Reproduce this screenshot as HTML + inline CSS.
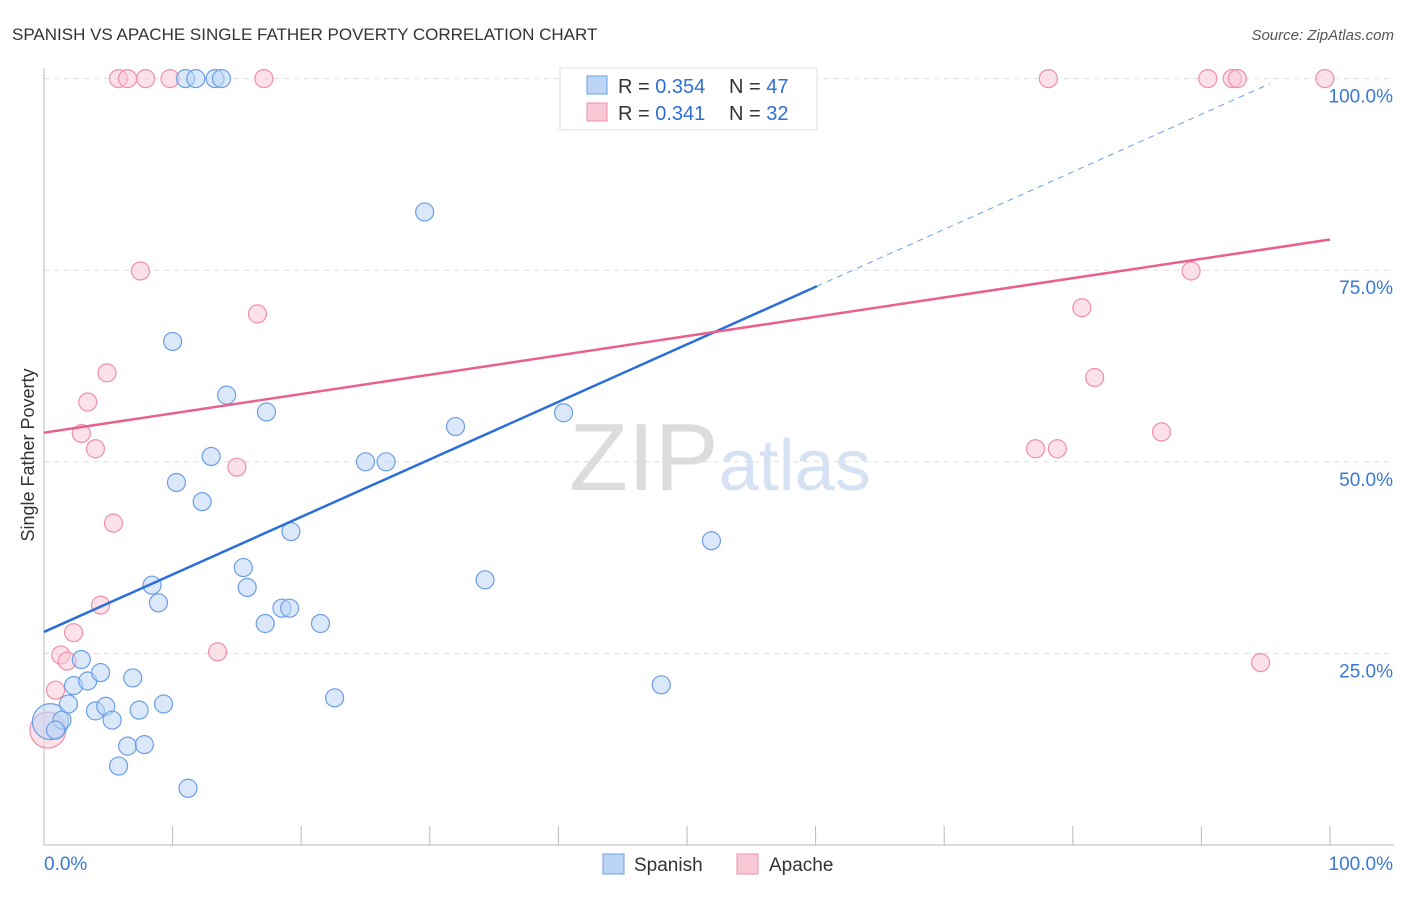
<!DOCTYPE html>
<html><head><meta charset="utf-8"><style>
body{margin:0;background:#fff;font-family:"Liberation Sans",sans-serif}
svg text{font-family:"Liberation Sans",sans-serif}
</style></head><body>
<svg id="c" width="1406" height="892">
<text x="12" y="40" font-size="17" fill="#333">SPANISH VS APACHE SINGLE FATHER POVERTY CORRELATION CHART</text>
<text x="1394" y="40" font-size="15" fill="#555" font-style="italic" text-anchor="end">Source: ZipAtlas.com</text>
<text x="720" y="490" font-size="96" fill="#e4e4e4" text-anchor="middle" font-family="Liberation Serif"><tspan fill="#dcdcdc">ZIP</tspan><tspan fill="#d6e2f3" font-family="Liberation Sans" font-size="72">atlas</tspan></text>
<text x="34" y="455" font-size="18" fill="#333" text-anchor="middle" transform="rotate(-90 34 455)">Single Father Poverty</text>
<g id="grid"></g><g id="pts"></g><g id="lines"></g>
<g>
<rect x="560" y="68" width="257" height="62" fill="#fff" stroke="#ddd"/>
<rect x="587" y="76" width="20" height="18" fill="#bcd5f5" stroke="#6b9ee6"/>
<rect x="587" y="103" width="20" height="18" fill="#f9c8d6" stroke="#ee8fab"/>
<text x="618" y="93" font-size="20" fill="#333">R = <tspan fill="#2f6fd6">0.354</tspan><tspan x="729">N = </tspan><tspan fill="#2f6fd6">47</tspan></text>
<text x="618" y="120" font-size="20" fill="#333">R = <tspan fill="#2f6fd6"> 0.341</tspan><tspan x="729">N = </tspan><tspan fill="#2f6fd6">32</tspan></text>
</g>
<g>
<rect x="603" y="854" width="21" height="20" fill="#bcd5f5" stroke="#6b9ee6"/>
<text x="634" y="871" font-size="19" fill="#333">Spanish</text>
<rect x="737" y="854" width="21" height="20" fill="#f9c8d6" stroke="#ee8fab"/>
<text x="769" y="871" font-size="19" fill="#333">Apache</text>
</g>
</svg>
<script>
const yTicks=[100,75,50,25];
const xTickLabels=["0.0%","100.0%"];
const spanishX=[0.5,1.4,1.9,0.9,2.9,2.3,3.4,4.4,4.0,4.8,5.3,6.9,7.4,9.3,6.5,7.8,5.8,11.2,8.4,8.9,15.5,15.8,19.2,18.5,19.1,17.2,21.5,22.6,10.0,10.3,12.3,13.0,14.2,17.3,25.0,26.6,29.6,32.0,34.3,40.4,48.0,51.9,11.0,11.8,13.3,13.8,41.8];
const spanishY=[16.1,16.3,18.4,15.0,24.2,20.8,21.4,22.5,17.5,18.1,16.3,21.8,17.6,18.4,12.9,13.1,10.3,7.4,33.9,31.6,36.2,33.6,40.9,30.9,30.9,28.9,28.9,19.2,65.7,47.3,44.8,50.7,58.7,56.5,50.0,50.0,82.6,54.6,34.6,56.4,20.9,39.7,100,100,100,100,100];
const apacheX=[0.3,0.9,1.3,1.8,2.3,4.4,5.4,4.0,2.9,3.4,4.9,7.5,13.5,15.0,16.6,5.8,6.5,7.9,9.8,17.1,78.1,90.5,92.4,92.8,99.6,89.2,80.7,81.7,77.1,78.8,86.9,94.6];
const apacheY=[15.0,20.2,24.8,24.0,27.7,31.3,42.0,51.7,53.7,57.8,61.6,74.9,25.2,49.3,69.3,100,100,100,100,100,100,100,100,100,100,74.9,70.1,61.0,51.7,51.7,53.9,23.8];
const spanishTrend=[27.8,72.9,60.1,99.6]; // y@0, y@60.1, solid end x, dashed end x
const apacheTrend=[53.8,79.0];
const NS="http://www.w3.org/2000/svg";
const X=v=>44+v*12.86, Y=v=>845-v*7.664;
function mk(p,t,a){const e=document.createElementNS(NS,t);for(const k in a)e.setAttribute(k,a[k]);p.appendChild(e);return e;}
const grid=document.getElementById('grid'),pts=document.getElementById('pts'),lines=document.getElementById('lines');
yTicks.forEach(t=>{
 const l=mk(grid,'line',{x1:44,x2:1394,y1:Y(t),y2:Y(t),stroke:'#ddd','stroke-dasharray':'5,5'});
 
 
 const tx=mk(grid,'text',{x:1393,y:Y(t)+24,'font-size':19,fill:'#3a78d4','text-anchor':'end'});
 tx.textContent=t.toFixed(1)+'%';
 
 
});
const ax=mk(grid,'line',{x1:44,x2:1394,y1:845,y2:845,stroke:'#bbb'});


const ay=mk(grid,'line',{x1:44,x2:44,y1:68,y2:845,stroke:'#bbb'});


for(let i=1;i<=10;i++){const t=mk(grid,'line',{x1:X(i*10),x2:X(i*10),y1:826,y2:845,stroke:'#bbb'});
 
 }
[[0,'start',44],[1,'end',1393]].forEach(([i,a,x])=>{const t=mk(grid,'text',{x:x,y:870,'font-size':19,fill:'#3a78d4','text-anchor':a});t.textContent=xTickLabels[i];
 
 });
function dots(xs,ys,fill,stroke,name){xs.forEach((v,i)=>{
 const r=(i===0)?18:9;
 const c=mk(pts,'circle',{cx:X(v),cy:Y(ys[i]),r:r,fill:fill,'fill-opacity':0.55,stroke:stroke,'stroke-width':1.2});
 
 });}
dots(apacheX,apacheY,'#f9c8d6','#ee8fab','apache-point');
dots(spanishX,spanishY,'#bcd5f5','#6b9ee6','spanish-point');
const slope=(spanishTrend[1]-spanishTrend[0])/60.1;
const s1=mk(lines,'line',{x1:X(0),y1:Y(spanishTrend[0]),x2:X(spanishTrend[2]),y2:Y(spanishTrend[0]+slope*spanishTrend[2]),stroke:'#2a6fd8','stroke-width':2.5});


const s2=mk(lines,'line',{x1:X(spanishTrend[2]),y1:Y(spanishTrend[0]+slope*spanishTrend[2]),x2:X(spanishTrend[3]*0.957),y2:Y(spanishTrend[0]+slope*spanishTrend[3]*0.957),stroke:'#6b9ee6','stroke-width':1,'stroke-dasharray':'6,5'});


const a1=mk(lines,'line',{x1:X(0),y1:Y(apacheTrend[0]),x2:X(100),y2:Y(apacheTrend[1]),stroke:'#e8608e','stroke-width':2.5});


</script>
</body></html>
